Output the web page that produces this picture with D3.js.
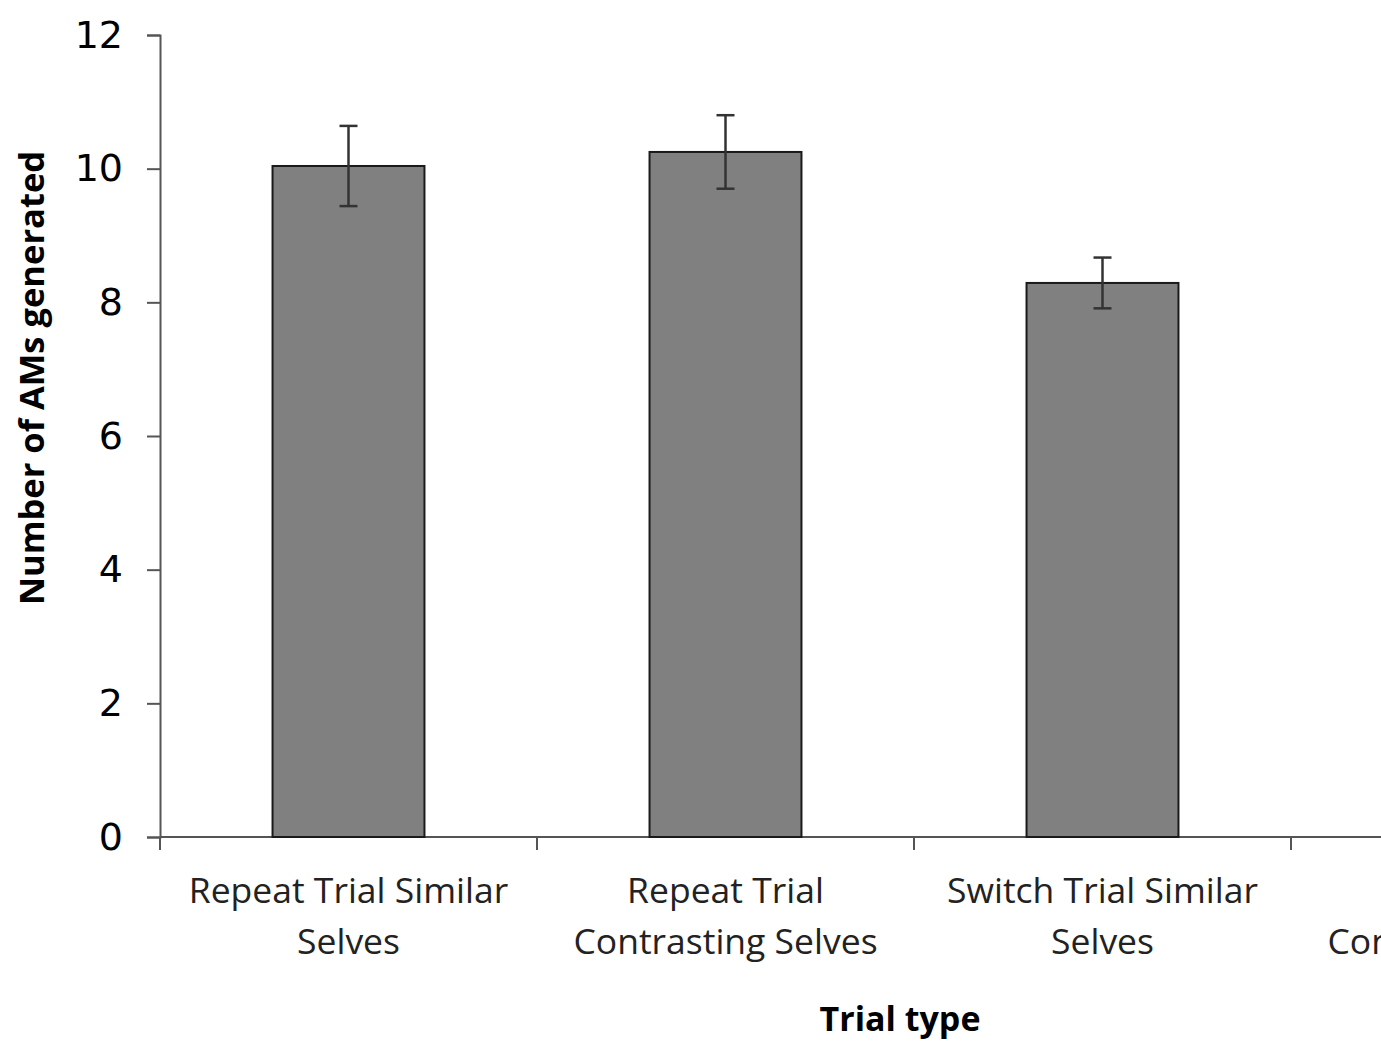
<!DOCTYPE html>
<html><head><meta charset="utf-8">
<script src="https://cdn.jsdelivr.net/npm/d3@7"></script>
<style>body{margin:0;background:#fff}svg{display:block}</style>
</head><body>
<svg id="c" width="1381" height="1044"></svg>
<script>
const categories = [
  ["Repeat Trial Similar", "Selves"],
  ["Repeat Trial", "Contrasting Selves"],
  ["Switch Trial Similar", "Selves"],
  ["Switch Trial", "Contrasting Selves"]
];
const means = [10.04, 10.25, 8.29, 8.6];
const errors = [0.60, 0.55, 0.38, 0.45];
const yTicks = [0, 2, 4, 6, 8, 10, 12];
const yLabel = "Number of AMs generated";
const xLabel = "Trial type";

const svg = d3.select("#c");
const x0 = 160, step = 377;
const x = d3.scaleBand().domain(d3.range(categories.length))
  .range([x0, x0 + step * categories.length]).paddingInner(0.597).paddingOuter(0.2985);
const y = d3.scaleLinear().domain([0, 12]).range([837, 35]);

// y axis
const ya = svg.append("g").attr("transform", `translate(${x0},0)`)
  .call(d3.axisLeft(y).tickValues(yTicks).tickSize(13).tickPadding(24));
ya.select(".domain").attr("stroke", "#555").attr("stroke-width", 2);
ya.selectAll(".tick line").attr("stroke", "#555").attr("stroke-width", 2);
ya.selectAll(".tick text").attr("font-family", "DejaVu Sans, Verdana, sans-serif")
  .attr("font-size", 38).attr("fill", "#000");

// x axis
const xEdge = d3.scaleLinear().domain([0, categories.length]).range([x0, x0 + step * categories.length]);
const xa = svg.append("g").attr("transform", `translate(0,837)`);
xa.append("line").attr("x1", x0).attr("x2", xEdge(categories.length)).attr("y1", 0).attr("y2", 0)
  .attr("stroke", "#555").attr("stroke-width", 2);
xa.selectAll("line.t").data(d3.range(categories.length + 1)).join("line").attr("class", "t")
  .attr("x1", d => xEdge(d)).attr("x2", d => xEdge(d)).attr("y1", 0).attr("y2", 13)
  .attr("stroke", "#555").attr("stroke-width", 2);

// bars
svg.selectAll("rect.bar").data(means).join("rect").attr("class", "bar")
  .attr("x", (d, i) => x(i)).attr("width", x.bandwidth())
  .attr("y", d => y(d)).attr("height", d => y(0) - y(d))
  .attr("fill", "#808080").attr("stroke", "#1a1a1a").attr("stroke-width", 2);

// error bars
const eb = svg.selectAll("g.eb").data(means).join("g").attr("class", "eb")
  .attr("stroke", "#333").attr("stroke-width", 2.5);
eb.append("line").attr("x1", (d, i) => x(i) + x.bandwidth() / 2).attr("x2", (d, i) => x(i) + x.bandwidth() / 2)
  .attr("y1", (d, i) => y(d + errors[i])).attr("y2", (d, i) => y(d - errors[i]));
eb.append("line").attr("x1", (d, i) => x(i) + x.bandwidth() / 2 - 9).attr("x2", (d, i) => x(i) + x.bandwidth() / 2 + 9)
  .attr("y1", (d, i) => y(d + errors[i])).attr("y2", (d, i) => y(d + errors[i]));
eb.append("line").attr("x1", (d, i) => x(i) + x.bandwidth() / 2 - 9).attr("x2", (d, i) => x(i) + x.bandwidth() / 2 + 9)
  .attr("y1", (d, i) => y(d - errors[i])).attr("y2", (d, i) => y(d - errors[i]));

// category labels
const cl = svg.selectAll("text.cat").data(categories).join("text").attr("class", "cat")
  .attr("text-anchor", "middle").attr("font-family", "Open Sans, sans-serif").attr("font-size", 35.5).attr("fill", "#222");
cl.selectAll("tspan").data((d, i) => d.map(s => ({ s, i }))).join("tspan")
  .attr("x", d => x(d.i) + x.bandwidth() / 2).attr("y", (d, j) => 903 + j * 51).text(d => d.s);

// axis titles
svg.append("text").attr("transform", "translate(44,378) rotate(-90)").attr("text-anchor", "middle")
  .attr("font-family", "Open Sans, sans-serif").attr("font-weight", "bold").attr("font-size", 34.5).text(yLabel);
svg.append("text").attr("x", 900).attr("y", 1031).attr("text-anchor", "middle")
  .attr("font-family", "Open Sans, sans-serif").attr("font-weight", "bold").attr("font-size", 34).text(xLabel);
</script>
</body></html>
